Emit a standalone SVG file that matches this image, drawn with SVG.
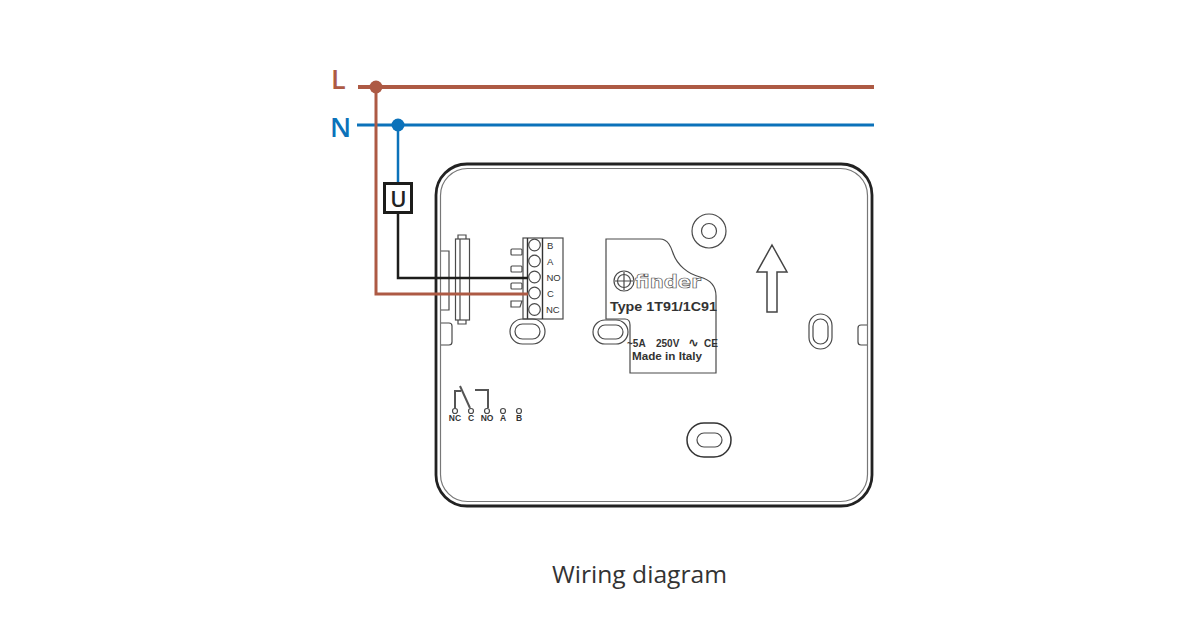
<svg xmlns="http://www.w3.org/2000/svg" width="1200" height="630" viewBox="0 0 1200 630">
<style>
.g{fill:none;stroke:#4a4a4a;stroke-width:1.2}
.d{fill:none;stroke:#444;stroke-width:1.5}
.t{font-family:"Liberation Sans",Arial,sans-serif;fill:#333}
.tb{font-family:"Liberation Sans",Arial,sans-serif;fill:#333;font-weight:bold}
.s{font-size:9.500px;text-anchor:start}
.m{font-size:8.500px;text-anchor:middle;font-weight:bold}
.L{stroke:#ad5a44;fill:none}
.N{stroke:#0b72ba;fill:none}
</style>
<rect width="1200" height="630" fill="#fff"/>
<g id="housing">
<rect x="436" y="164" width="436" height="342" rx="31" fill="none" stroke="#222" stroke-width="2.800"/>
<rect x="440.500" y="168.500" width="427" height="333" rx="27" fill="none" stroke="#777" stroke-width="1.200"/>
<path class="g" d="M441 251H449V310H441M441 323H449Q452 323 452 326V342Q452 345 449 345H441"/>
<path class="g" d="M867 325H861Q858 325 858 328V342Q858 345 861 345H867"/>
<rect class="g" x="455.500" y="239" width="14" height="81"/>
<path class="g" d="M458 239V235H466V239M458 320V324H466V320M460 239V320"/>
</g>
<g id="terminal-block">
<rect class="g" x="523" y="238" width="40" height="81"/>
<path d="M527.500 238V319M542.500 238V319" fill="none" stroke="#333" stroke-width="1.400"/>
<circle class="g" cx="534.500" cy="245" r="5.800"/><circle class="g" cx="534.500" cy="261" r="5.800"/><circle class="g" cx="534.500" cy="277" r="5.800"/><circle class="g" cx="534.500" cy="293" r="5.800"/><circle class="g" cx="534.500" cy="309.500" r="5.800"/>
<rect class="g" x="511" y="249" width="11" height="6" rx="1"/><rect class="g" x="511" y="266" width="11" height="6" rx="1"/><rect class="g" x="511" y="283" width="11" height="6" rx="1"/><path class="g" d="M511 301H522L520 307H511Z"/>
<text class="t s" x="547" y="248.500">B</text><text class="t s" x="547" y="265">A</text><text class="t s" x="546.500" y="281">NO</text><text class="t s" x="547" y="297">C</text><text class="t s" x="546" y="313">NC</text>
<rect class="g" x="510" y="319" width="35" height="25" rx="12.500"/><rect class="g" x="515" y="324" width="25" height="15" rx="7.500"/>
</g>
<g id="label-plate">
<path class="g" d="M606 239H660C668 239 671 247 673 253C677 265 688 274 700 277C711 280 716 286 716 296V373H630V325Q630 319 625 319H606Z"/>
<rect class="g" x="593" y="320" width="35" height="24" rx="12" style="fill:#fff"/><rect class="g" x="598" y="325" width="25" height="14" rx="7"/>
<circle class="g" cx="624" cy="281" r="10"/><circle class="g" cx="624" cy="281" r="6.500"/><path class="g" d="M624 272V290M615 281H633"/>
<text x="635" y="288" font-family="'DejaVu Sans',sans-serif" font-size="18.500" font-weight="bold" fill="#fff" stroke="#555" stroke-width="0.700" textLength="66" lengthAdjust="spacingAndGlyphs">finder</text>
<text class="tb" x="610" y="311" font-size="13.500" textLength="107" lengthAdjust="spacingAndGlyphs">Type 1T91/1C91</text>
<text class="tb" font-size="10" y="347"><tspan x="627">~5A</tspan><tspan x="656">250V</tspan><tspan x="688" font-family="'DejaVu Sans',sans-serif" font-size="13">∿</tspan><tspan x="704">CE</tspan></text>
<text class="tb" x="632" y="360" font-size="10.500" textLength="70" lengthAdjust="spacingAndGlyphs">Made in Italy</text>
</g>
<g id="mounts">
<circle class="g" cx="709" cy="231" r="17"/><circle class="g" cx="709" cy="231" r="7.500"/>
<path class="d" d="M772 245L787 272H777V312H767V272H757Z"/>
<rect class="g" x="809" y="314" width="23" height="35" rx="11.500"/><rect class="g" x="813" y="319" width="15" height="25" rx="7.500"/>
<rect x="687" y="423" width="44" height="34" rx="17" fill="none" stroke="#333" stroke-width="1.500"/><rect class="g" x="697" y="433" width="25" height="14" rx="7"/>
</g>
<g id="relay-symbol">
<path d="M455 408V391H461M460 386L470 408M475 390H488V408" fill="none" stroke="#555" stroke-width="2"/>
<circle class="g" cx="455" cy="411" r="2.500"/><circle class="g" cx="471" cy="411" r="2.500"/><circle class="g" cx="487" cy="411" r="2.500"/><circle class="g" cx="503" cy="411" r="2.500"/><circle class="g" cx="519" cy="411" r="2.500"/>
<text class="t m" x="455" y="420.500">NC</text><text class="t m" x="471" y="420.500">C</text><text class="t m" x="487" y="420.500">NO</text><text class="t m" x="503" y="420.500">A</text><text class="t m" x="519" y="420.500">B</text>
</g>
<g id="connectors">
<path class="L" stroke-width="4" d="M358 87H874"/>
<path class="N" stroke-width="3" d="M357 125H874"/>
<path class="L" stroke-width="3" d="M376 87V294H528"/>
<path class="N" stroke-width="2.500" d="M398 125V183"/>
<path d="M398 213V278H528" fill="none" stroke="#1d1d1b" stroke-width="2.500"/>
<circle cx="376" cy="87" r="6.500" fill="#ad5a44"/>
<circle cx="398" cy="125" r="6.500" fill="#0b72ba"/>
</g>
<g id="line-L"><text x="331" y="89" font-family="'Open Sans',sans-serif" font-size="27" font-weight="600" fill="#ad5a44">L</text></g>
<g id="line-N"><text x="330" y="137" font-family="'Open Sans',sans-serif" font-size="27" font-weight="600" fill="#0b72ba">N</text></g>
<g id="load-U">
<rect x="384.500" y="183.500" width="27" height="29" fill="#fff" stroke="#1d1d1b" stroke-width="3"/>
<text x="398.500" y="207" text-anchor="middle" font-family="'Open Sans',sans-serif" font-size="22" font-weight="600" fill="#222">U</text>
</g>
<text x="552" y="583" font-family="'Open Sans',sans-serif" font-size="24" fill="#333" textLength="175" lengthAdjust="spacingAndGlyphs">Wiring diagram</text>
</svg>
